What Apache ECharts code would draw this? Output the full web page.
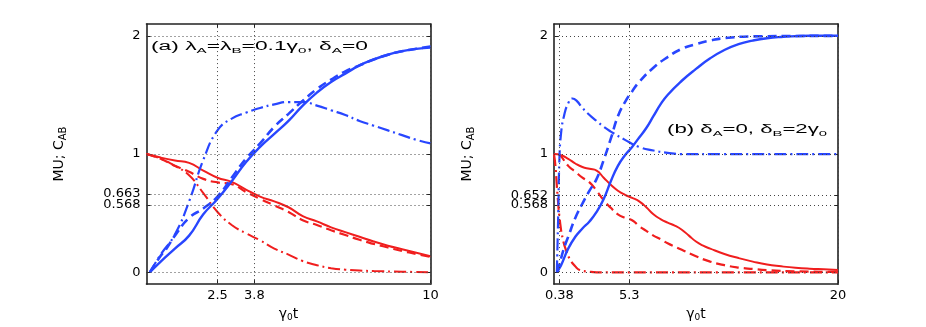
<!DOCTYPE html>
<html>
<head>
<meta charset="utf-8">
<script src="https://cdn.jsdelivr.net/npm/echarts@6/dist/echarts.min.js"></script>
<style>
html,body{margin:0;padding:0;background:#fff;}
#c{width:926px;height:327px;}
</style>
</head>
<body>
<div id="c"></div>
<script>
// ---- tick values ----
const xTicksA = [2.5, 3.8, 10];
const xTicksB = [0.38, 5.3, 20];
const yTicksA = [0, 0.568, 0.663, 1, 2];
const yTicksB = [0, 0.568, 0.652, 1, 2];

// ---- panel (a) ----
const aBlueSolidX = [0.12,0.5,1.0,1.5,2.0,2.5,3.0,3.5,4.0,4.5,5.0,5.5,6.0,6.5,7.0,7.5,8.0,8.5,9.0,9.5,10];
const aBlueSolidY = [0,0.09,0.2,0.31,0.49,0.62,0.77,0.93,1.06,1.17,1.28,1.41,1.52,1.61,1.68,1.75,1.80,1.84,1.87,1.89,1.90];
const aBlueDashX = [0.12,0.5,0.7,1.0,1.5,2.0,2.5,3.0,3.5,4.0,4.5,5.0,5.5,6.0,6.5,7.0,7.5,8.0,8.5,9.0,9.5,10];
const aBlueDashY = [0,0.14,0.2,0.31,0.46,0.54,0.64,0.8,0.96,1.09,1.23,1.34,1.45,1.55,1.63,1.70,1.75,1.80,1.84,1.87,1.89,1.91];
const aBlueDotX = [0.12,0.5,1.0,1.5,2.0,2.5,3.0,3.5,4.0,4.5,5.0,5.5,6.0,6.5,7.0,7.5,8.0,8.5,9.0,9.5,10];
const aBlueDotY = [0,0.15,0.32,0.6,0.95,1.2,1.3,1.35,1.39,1.42,1.44,1.44,1.41,1.37,1.33,1.28,1.24,1.2,1.16,1.12,1.09];
const aRedSolidX = [0,0.5,1.0,1.5,2.0,2.5,3.0,3.5,4.0,4.5,5.0,5.5,6.0,6.5,7.0,7.5,8.0,8.5,9.0,9.5,10];
const aRedSolidY = [1.0,0.97,0.945,0.925,0.86,0.8,0.765,0.7,0.64,0.6,0.55,0.475,0.43,0.38,0.34,0.3,0.26,0.225,0.195,0.165,0.135];
const aRedDashX = [0,0.5,1.0,1.5,2.0,2.5,3.0,3.5,4.0,4.5,5.0,5.5,6.0,6.5,7.0,7.5,8.0,8.5,9.0,9.5,10];
const aRedDashY = [1.0,0.96,0.9,0.85,0.79,0.76,0.745,0.68,0.62,0.565,0.51,0.44,0.4,0.355,0.315,0.275,0.24,0.21,0.18,0.155,0.13];
const aRedDotX = [0,0.5,1.0,1.5,2.0,2.5,3.0,3.5,4.0,4.5,5.0,5.5,6.0,6.5,7.0,7.5,8.0,9.0,10];
const aRedDotY = [1.0,0.96,0.9,0.82,0.67,0.51,0.4,0.33,0.27,0.2,0.15,0.095,0.06,0.035,0.022,0.015,0.01,0.005,0];

// ---- panel (b) ----
const bBlueSolidX = [0.3,0.5,1.0,1.5,2.0,2.5,3.0,3.5,4.0,4.5,5.0,5.5,6.0,6.5,7.0,7.5,8.0,9.0,10,11,12,13,14,15,16,18,20];
const bBlueSolidY = [0.02,0.06,0.2,0.3,0.37,0.43,0.51,0.62,0.77,0.9,0.99,1.06,1.14,1.22,1.32,1.42,1.5,1.62,1.72,1.81,1.88,1.93,1.96,1.98,1.99,2.0,2.0];
const bBlueDashX = [0.25,0.5,0.78,1.0,1.5,2.0,2.5,3.0,3.5,4.0,4.5,5.0,5.5,6.0,7.0,8.0,9.0,10,11,12,14,20];
const bBlueDashY = [0,0.12,0.23,0.3,0.46,0.58,0.69,0.79,0.95,1.13,1.32,1.44,1.53,1.61,1.73,1.82,1.89,1.93,1.96,1.98,1.995,2.0];
const bBlueDotX = [0.2,0.3,0.38,0.5,0.7,1.0,1.3,1.6,2.0,2.5,3.0,3.5,4.0,5.0,6.0,7.0,8.0,9.0,12,20];
const bBlueDotY = [0,0.5,0.95,1.18,1.32,1.43,1.47,1.45,1.39,1.33,1.28,1.23,1.19,1.12,1.06,1.03,1.01,1.0,1.0,1.0];
const bRedSolidX = [0,0.5,1.0,1.5,2.0,2.5,3.0,3.5,4.0,4.5,5.0,5.5,6.0,6.5,7.0,7.5,8.0,8.5,9.0,9.5,10,10.5,11,12,13,14,15,16,17,18,19,20];
const bRedSolidY = [1.0,0.99,0.96,0.92,0.89,0.875,0.86,0.8,0.74,0.69,0.655,0.63,0.6,0.55,0.49,0.45,0.42,0.395,0.36,0.31,0.26,0.225,0.2,0.155,0.12,0.09,0.065,0.05,0.038,0.03,0.025,0.02];
const bRedDashX = [0.3,0.5,1.0,1.5,2.0,2.5,3.0,3.5,4.0,4.5,5.0,5.5,6.0,6.5,7.0,7.5,8.0,9.0,10,11,12,13,14,15,17,20];
const bRedDashY = [1.0,0.98,0.9,0.85,0.8,0.76,0.69,0.61,0.545,0.49,0.46,0.44,0.39,0.35,0.31,0.28,0.245,0.19,0.135,0.09,0.06,0.04,0.028,0.018,0.008,0.003];
const bRedDotX = [0,0.1,0.25,0.43,0.66,0.9,1.12,1.5,1.8,2.5,3.0,20];
const bRedDotY = [1.0,0.9,0.65,0.42,0.26,0.17,0.11,0.05,0.02,0.005,0,0];

const BLUE = '#2846ff';
const RED = '#f01e1e';
const DASH = [9, 5];
const DASHDOT = [12, 4, 2, 4];

function pts(xs, ys) { return xs.map((x, i) => [x, ys[i]]); }

function gridLines(xt, yt) {
  return {
    silent: true,
    symbol: ['none', 'none'],
    label: { show: false },
    emphasis: { disabled: true },
    animation: false,
    lineStyle: { type: [1, 3], color: '#444', width: 1 },
    data: xt.map(v => ({ xAxis: v })).concat(yt.map(v => ({ yAxis: v })))
  };
}

function line(name, xi, yi, xs, ys, color, type, width, extra) {
  const s = {
    name: name, type: 'line', xAxisIndex: xi, yAxisIndex: yi,
    data: pts(xs, ys), showSymbol: false, smooth: 0.5,
    animation: false, z: 3,
    lineStyle: { color: color, type: type, width: width, cap: 'butt' },
    emphasis: { disabled: true }
  };
  if (extra) Object.assign(s, extra);
  return s;
}

const grids = [
  { left: 146.5, top: 24, width: 284, height: 265 },
  { left: 554, top: 24, width: 284, height: 265 }
];

const fmt = v => String(v);
const lblStyle = { color: '#000', fontFamily: 'DejaVu Sans', fontSize: 13 };
const axLine = { show: true, lineStyle: { color: '#222', width: 1.6 } };

function xAx(gi, ticks, max, bottom) {
  return {
    type: 'value', gridIndex: gi, min: 0, max: max,
    position: bottom ? 'bottom' : 'top',
    axisLine: Object.assign({ onZero: false }, axLine),
    axisTick: { show: true, inside: true, length: 4, customValues: ticks, lineStyle: { color: '#222', width: 1 } },
    axisLabel: bottom ? Object.assign({ show: true, customValues: ticks, formatter: fmt, margin: 5 }, lblStyle) : { show: false },
    splitLine: { show: false },
    name: bottom ? '{a|γ}{s|0}{a|t}' : '',
    nameLocation: 'middle', nameGap: 19,
    nameTextStyle: {
      rich: {
        a: { fontFamily: 'DejaVu Sans', fontSize: 14, color: '#000', lineHeight: 16 },
        s: { fontFamily: 'DejaVu Sans', fontSize: 9, color: '#000', lineHeight: 8, verticalAlign: 'bottom' }
      }
    }
  };
}
function yAx(gi, ticks, left) {
  return {
    type: 'value', gridIndex: gi, min: -0.1, max: 2.1,
    position: left ? 'left' : 'right',
    axisLine: Object.assign({ onZero: false }, axLine),
    axisTick: { show: true, inside: true, length: 4, customValues: ticks, lineStyle: { color: '#222', width: 1 } },
    axisLabel: left ? Object.assign({ show: true, customValues: ticks, formatter: fmt, margin: 6 }, lblStyle) : { show: false },
    splitLine: { show: false },
    name: left ? '{a|MU; C}{s|AB}' : '',
    nameLocation: 'middle', nameGap: 78, nameRotate: 90,
    nameTextStyle: {
      rich: {
        a: { fontFamily: 'DejaVu Sans', fontSize: 14, color: '#000', lineHeight: 18 },
        s: { fontFamily: 'DejaVu Sans', fontSize: 10, color: '#000', lineHeight: 9, verticalAlign: 'bottom' }
      }
    }
  };
}

const annRich = {
  s: { fontFamily: 'Liberation Sans', fontSize: 8, lineHeight: 8, verticalAlign: 'bottom', fill: '#000' },
  m: { fontFamily: 'Liberation Sans', fontSize: 12, lineHeight: 16, fill: '#000' }
};

const option = {
  backgroundColor: '#fff',
  animation: false,
  grid: grids,
  xAxis: [ xAx(0, xTicksA, 10, true), xAx(0, xTicksA, 10, false), xAx(1, xTicksB, 20, true), xAx(1, xTicksB, 20, false) ],
  yAxis: [ yAx(0, yTicksA, true), yAx(0, yTicksA, false), yAx(1, yTicksB, true), yAx(1, yTicksB, false) ],
  series: [
    line('a-red-dashdot', 0, 0, aRedDotX, aRedDotY, RED, DASHDOT, 2, { markLine: gridLines(xTicksA, yTicksA) }),
    line('a-red-dash', 0, 0, aRedDashX, aRedDashY, RED, DASH, 2.2),
    line('a-red-solid', 0, 0, aRedSolidX, aRedSolidY, RED, 'solid', 2),
    line('a-blue-dashdot', 0, 0, aBlueDotX, aBlueDotY, BLUE, DASHDOT, 2.2),
    line('a-blue-dash', 0, 0, aBlueDashX, aBlueDashY, BLUE, DASH, 2.6),
    line('a-blue-solid', 0, 0, aBlueSolidX, aBlueSolidY, BLUE, 'solid', 2.4),
    line('b-red-dashdot', 2, 2, bRedDotX, bRedDotY, RED, DASHDOT, 2.2, { markLine: gridLines(xTicksB, yTicksB) }),
    line('b-red-dash', 2, 2, bRedDashX, bRedDashY, RED, DASH, 2.2),
    line('b-red-solid', 2, 2, bRedSolidX, bRedSolidY, RED, 'solid', 2),
    line('b-blue-dashdot', 2, 2, bBlueDotX, bBlueDotY, BLUE, DASHDOT, 2.2),
    line('b-blue-dash', 2, 2, bBlueDashX, bBlueDashY, BLUE, DASH, 2.6),
    line('b-blue-solid', 2, 2, bBlueSolidX, bBlueSolidY, BLUE, 'solid', 2.4)
  ],
  graphic: [
    {
      type: 'text', x: 151, y: 47, scaleX: 1.9, z: 10,
      style: {
        text: '{m|(a) λ}{s|A}{m|=λ}{s|B}{m|=0.1γ}{s|0}{m|, δ}{s|A}{m|=0}',
        rich: annRich, verticalAlign: 'middle', align: 'left'
      }
    },
    {
      type: 'text', x: 667, y: 130, scaleX: 1.85, z: 10,
      style: {
        text: '{m|(b) δ}{s|A}{m|=0, δ}{s|B}{m|=2γ}{s|0}',
        rich: annRich, verticalAlign: 'middle', align: 'left'
      }
    }
  ]
};

const chart = echarts.init(document.getElementById('c'), null, { renderer: 'canvas' });
chart.setOption(option);
</script>
</body>
</html>
